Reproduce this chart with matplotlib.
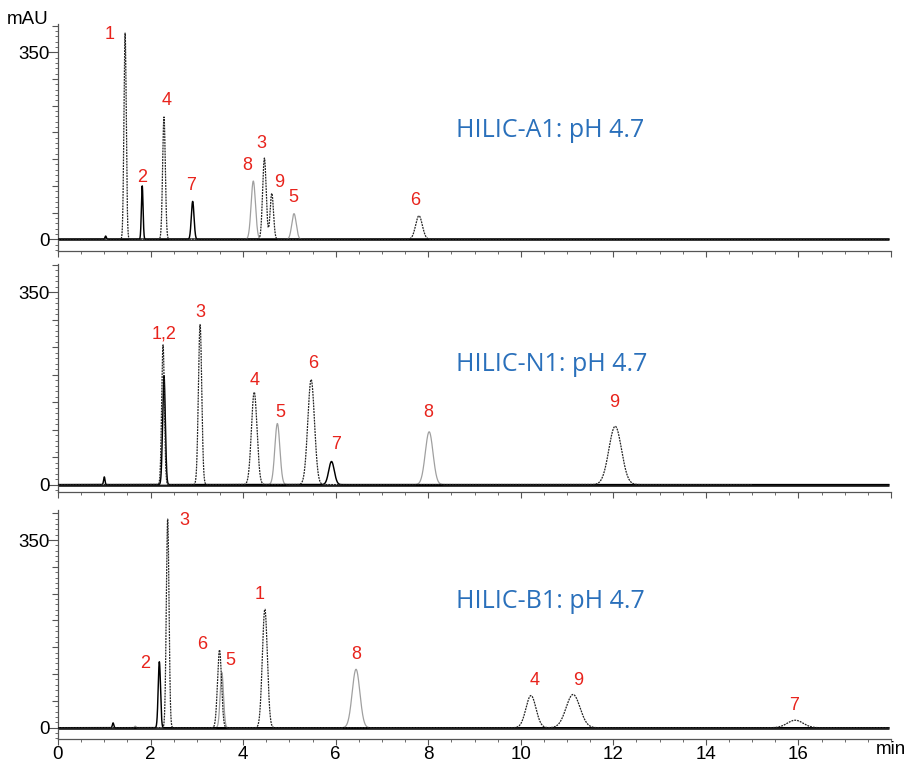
import numpy as np
import matplotlib
matplotlib.use("Agg")
import matplotlib.pyplot as plt
from matplotlib.ticker import MultipleLocator, FixedFormatter, FixedLocator

# ---------------- data: peak tables ----------------
# HILIC-A1
a1_solid_rt = [1.03, 1.82, 2.91]
a1_solid_h = [6, 100, 71]
a1_solid_w = [0.015, 0.018, 0.029]
a1_dash_rt = [1.45, 2.29, 4.46, 4.62, 7.80]
a1_dash_h = [386, 229, 152, 86, 44]
a1_dash_w = [0.025, 0.029, 0.038, 0.036, 0.072]
a1_gray_rt = [4.22, 5.10]
a1_gray_h = [109, 48]
a1_gray_w = [0.047, 0.048]
a1_labels = ["1", "2", "4", "7", "8", "3", "9", "5", "6"]
a1_lab_x = [1.12, 1.82, 2.34, 2.88, 4.08, 4.40, 4.79, 5.09, 7.71]
a1_lab_y = [384, 115, 260, 101, 139, 180, 107, 79, 73]

# HILIC-N1
n1_solid_rt = [1.00, 2.29, 5.91]
n1_solid_h = [14, 198, 42]
n1_solid_w = [0.015, 0.029, 0.060]
n1_dash_rt = [2.27, 3.07, 4.24, 5.47, 12.04]
n1_dash_h = [254, 291, 168, 191, 106]
n1_dash_w = [0.029, 0.036, 0.060, 0.072, 0.136]
n1_gray_rt = [4.74, 8.02]
n1_gray_h = [111, 96]
n1_gray_w = [0.054, 0.083]
n1_labels = ["1,2", "3", "4", "5", "6", "7", "8", "9"]
n1_lab_x = [2.30, 3.08, 4.25, 4.80, 5.52, 6.00, 8.00, 12.02]
n1_lab_y = [274, 313, 189, 131, 221, 72, 131, 149]

# HILIC-B1
b1_solid_rt = [1.19, 2.19]
b1_solid_h = [9, 123]
b1_solid_w = [0.015, 0.025]
b1_dash_rt = [2.37, 3.49, 4.47, 10.22, 11.13, 15.93]
b1_dash_h = [389, 145, 221, 60, 62, 14]
b1_dash_w = [0.029, 0.043, 0.054, 0.108, 0.150, 0.170]
b1_gray_rt = [1.67, 3.54, 6.44]
b1_gray_h = [3, 103, 109]
b1_gray_w = [0.015, 0.036, 0.083]
b1_labels = ["3", "2", "6", "5", "1", "8", "4", "9", "7"]
b1_lab_x = [2.72, 1.88, 3.11, 3.72, 4.36, 6.45, 10.31, 11.23, 15.90]
b1_lab_y = [386, 120, 156, 126, 248, 137, 89, 89, 42]

titles = ["HILIC-A1: pH 4.7", "HILIC-N1: pH 4.7", "HILIC-B1: pH 4.7"]
title_x = [8.61, 8.61, 8.61]
title_y = [204, 218, 235]
dash_end = [17.95, 15.0, 17.95]
run_end = 17.95

# ---------------- figure ----------------
W, H = 910, 763
fig = plt.figure(figsize=(W / 100, H / 100), dpi=100)

def fx(px):
    return px / W

def fy(py):
    return 1 - py / H

panel_px = [(24, 250.5), (264, 492.3), (510, 739)]
ylims = [(-21, 403), (-14, 401), (-21, 406)]
left_px, right_px = 58, 891

RED = "#e8231c"
BLUE = "#2a70bb"
TICKFONT = ["Liberation Sans", "DejaVu Sans"]

panels = [
    (a1_solid_rt, a1_solid_h, a1_solid_w, a1_dash_rt, a1_dash_h, a1_dash_w,
     a1_gray_rt, a1_gray_h, a1_gray_w, a1_labels, a1_lab_x, a1_lab_y),
    (n1_solid_rt, n1_solid_h, n1_solid_w, n1_dash_rt, n1_dash_h, n1_dash_w,
     n1_gray_rt, n1_gray_h, n1_gray_w, n1_labels, n1_lab_x, n1_lab_y),
    (b1_solid_rt, b1_solid_h, b1_solid_w, b1_dash_rt, b1_dash_h, b1_dash_w,
     b1_gray_rt, b1_gray_h, b1_gray_w, b1_labels, b1_lab_x, b1_lab_y),
]

def trace(x, rts, hs, ws):
    y = np.zeros_like(x)
    for t, h, w in zip(rts, hs, ws):
        y += h * np.exp(-0.5 * ((x - t) / w) ** 2)
    return y

for i, p in enumerate(panels):
    (s_rt, s_h, s_w, d_rt, d_h, d_w, g_rt, g_h, g_w, labs, lx, ly) = p
    top, bot = panel_px[i]
    ax = fig.add_axes([fx(left_px), fy(bot), fx(right_px) - fx(left_px), fy(top) - fy(bot)])
    ax.set_xlim(0, 18)
    ax.set_ylim(*ylims[i])

    x_full = np.linspace(0, run_end, 12000)
    x_dash = np.linspace(0, dash_end[i], 12000)
    # overlapping baselines of the superimposed runs
    ax.hlines(0, 0, run_end, color="black", lw=1.8, zorder=1)
    ax.plot(x_full, trace(x_full, g_rt, g_h, g_w), color="#a0a0a0", lw=0.9, zorder=2)
    ax.plot(x_full, trace(x_full, s_rt, s_h, s_w), color="black", lw=1.05, zorder=3)
    ax.plot(x_dash, trace(x_dash, d_rt, d_h, d_w), color="#222222", lw=0.9,
            ls=(0, (1.5, 0.8)), zorder=4)

    for t, xx, yy in zip(labs, lx, ly):
        ax.text(xx, yy, t, color=RED, fontsize=13, family=TICKFONT,
                ha="center", va="center", zorder=5)

    ax.text(title_x[i], title_y[i], titles[i], color=BLUE, fontsize=18,
            family="Open Sans", ha="left", va="center")

    for sp in ["top", "right"]:
        ax.spines[sp].set_visible(False)
    for sp in ["left", "bottom"]:
        ax.spines[sp].set_color("#555555")
        ax.spines[sp].set_linewidth(0.9)

    # y ticks
    ax.yaxis.set_major_locator(FixedLocator(list(range(0, 401, 50))))
    ax.yaxis.set_major_formatter(FixedFormatter(
        ["0" if v == 0 else ("350" if v == 350 else "") for v in range(0, 401, 50)]))
    ax.yaxis.set_minor_locator(MultipleLocator(10))
    ax.tick_params(axis="y", which="major", direction="out", length=4, width=0.8,
                   color="#555555", labelsize=13.5, pad=2)
    ax.tick_params(axis="y", which="minor", direction="out", length=2, width=0.6,
                   color="#555555")
    for v, tk in zip(range(0, 401, 50), ax.yaxis.get_major_ticks()):
        if v in (0, 350):
            tk.tick1line.set_markersize(7)

    # x ticks
    ax.xaxis.set_major_locator(MultipleLocator(2))
    ax.xaxis.set_minor_locator(MultipleLocator(0.5))
    ax.tick_params(axis="x", which="major", direction="out", length=4, width=0.8,
                   color="#555555", labelsize=13.5, pad=1)
    ax.tick_params(axis="x", which="minor", direction="out", length=2.5, width=0.6,
                   color="#555555")
    if i < 2:
        ax.tick_params(axis="x", labelbottom=False)
    else:
        ax.set_xticks(np.arange(0, 17, 2))
        ax.set_xticks(np.arange(0, 18.01, 0.5), minor=True)

    for lab in ax.get_xticklabels() + ax.get_yticklabels():
        lab.set_family(TICKFONT)

fig.text(fx(28), fy(20), "mAU", fontsize=13.5, family=TICKFONT, ha="center", va="center")
fig.text(fx(891), fy(750), "min", fontsize=13.5, family=TICKFONT, ha="center", va="center")

fig.savefig("out.png", dpi=100)
